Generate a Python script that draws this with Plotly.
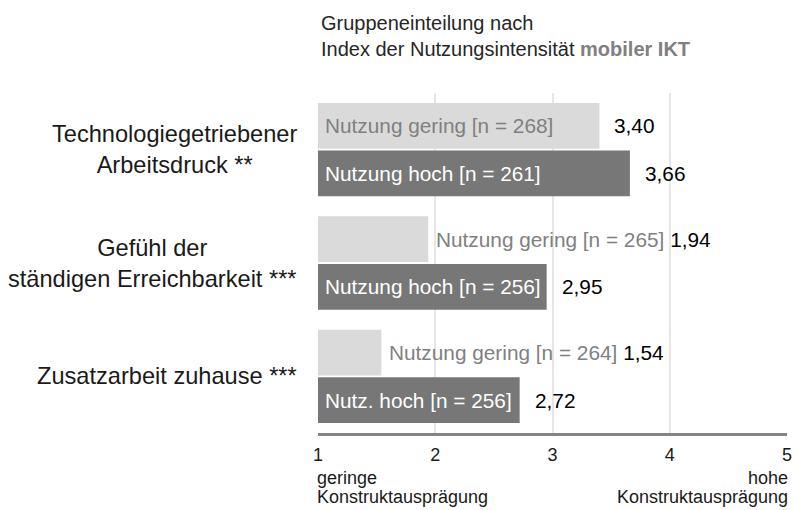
import plotly.graph_objects as go

# ---- data ----
categories = [
    "Technologiegetriebener<br>Arbeitsdruck **",
    "Gefühl der<br>ständigen Erreichbarkeit ***",
    "Zusatzarbeit zuhause ***",
]
gering_values = [3.40, 1.94, 1.54]
hoch_values = [3.66, 2.95, 2.72]
gering_labels = ["Nutzung gering [n = 268]", "Nutzung gering [n = 265]", "Nutzung gering [n = 264]"]
hoch_labels = ["Nutzung hoch [n = 261]", "Nutzung hoch [n = 256]", "Nutz. hoch [n = 256]"]
tick_values = [1, 2, 3, 4, 5]
tick_labels = ["1", "2", "3", "4", "5"]
title_line1 = "Gruppeneinteilung nach"
title_line2 = "Index der Nutzungsintensität"
title_bold = "mobiler IKT"
low_label = ["geringe", "Konstruktausprägung"]
high_label = ["hohe", "Konstruktausprägung"]

# ---- style ----
FONT = "Arial, Liberation Sans, sans-serif"
LIGHT = "#dadada"
DARK = "#777777"
GRAYTXT = "#808080"
TXT = "#1a1a1a"
W, H = 796, 510
ML, MR, MT, MB = 318, 9, 93, 77
XMIN, XMAX = 1, 5
PX_PER_UNIT = (W - ML - MR) / (XMAX - XMIN)
BAR_FS = 20.8
CAT_FS = 23.6


def fmt(v):
    return f"{v:.2f}".replace(".", ",")


def est_width(s, fs):
    return len(s) * 0.45 * fs


fig = go.Figure()
fig.add_trace(go.Bar(y=list(range(len(categories))), x=gering_values, orientation="h",
                     marker=dict(color=LIGHT, line=dict(width=0)), name="gering",
                     hoverinfo="skip"))
fig.add_trace(go.Bar(y=list(range(len(categories))), x=hoch_values, orientation="h",
                     marker=dict(color=DARK, line=dict(width=0)), name="hoch",
                     hoverinfo="skip"))

annotations = []
OFF = 0.21
for i, cat in enumerate(categories):
    annotations.append(dict(x=0, xref="paper", xanchor="right", xshift=-19, y=i, yref="y",
                            yanchor="middle", text=cat, align="center", showarrow=False,
                            font=dict(family=FONT, size=CAT_FS, color=TXT)))
    for v, lab, yoff, inside_color in [
        (gering_values[i], gering_labels[i], -OFF, GRAYTXT),
        (hoch_values[i], hoch_labels[i], OFF, "white"),
    ]:
        fits = (v - XMIN) * PX_PER_UNIT > est_width(lab, BAR_FS) + 8
        if fits:
            annotations.append(dict(x=XMIN, xref="x", xanchor="left", xshift=5, y=i + yoff,
                                    yref="y", yanchor="middle", text=lab, showarrow=False,
                                    font=dict(family=FONT, size=BAR_FS, color=inside_color)))
            annotations.append(dict(x=v, xref="x", xanchor="left", xshift=13, y=i + yoff,
                                    yref="y", yanchor="middle", text=fmt(v), showarrow=False,
                                    font=dict(family=FONT, size=BAR_FS, color="#000000")))
        else:
            annotations.append(dict(x=v, xref="x", xanchor="left", xshift=6, y=i + yoff,
                                    yref="y", yanchor="middle",
                                    text=f"{lab} <span style='color:#000000'>{fmt(v)}</span>",
                                    showarrow=False,
                                    font=dict(family=FONT, size=BAR_FS, color=GRAYTXT)))

# title
annotations.append(dict(x=0, xref="paper", xanchor="left", xshift=1, y=1, yref="paper",
                        yanchor="bottom", yshift=31, showarrow=False, align="left",
                        text=f"{title_line1}<br>{title_line2} <b><span style='color:{GRAYTXT}'>{title_bold}</span></b>",
                        font=dict(family=FONT, size=20, color="#262626")))
# axis end labels
for j, line in enumerate(low_label):
    annotations.append(dict(x=0, xref="paper", xanchor="left", xshift=-3, y=0, yref="paper",
                            yanchor="top", yshift=-33 - 19 * j, text=line, showarrow=False,
                            font=dict(family=FONT, size=18, color=TXT)))
for j, line in enumerate(high_label):
    annotations.append(dict(x=1, xref="paper", xanchor="right", xshift=3, y=0, yref="paper",
                            yanchor="top", yshift=-33 - 19 * j, text=line, showarrow=False,
                            font=dict(family=FONT, size=18, color=TXT)))

fig.update_layout(
    width=W, height=H,
    margin=dict(l=ML, r=MR, t=MT, b=MB, pad=0, autoexpand=False),
    plot_bgcolor="white", paper_bgcolor="white",
    barmode="group", bargap=0.16, bargroupgap=0.04,
    showlegend=False,
    xaxis=dict(range=[XMIN, XMAX], tickvals=tick_values, ticktext=tick_labels,
               showgrid=True, gridcolor="#e6e6e6", gridwidth=1.5, zeroline=False,
               showline=True, linecolor="#858585", linewidth=3, ticks="",
               ticklabelstandoff=3, automargin=False,
               tickfont=dict(family=FONT, size=18, color=TXT)),
    yaxis=dict(range=[len(categories) - 0.5, -0.5], showticklabels=False, showgrid=False,
               zeroline=False, showline=False, ticks="", automargin=False),
    annotations=annotations,
    font=dict(family=FONT),
)

fig.write_html("out.html", config={"displayModeBar": False},
               post_script="document.body.style.margin='0';document.body.style.overflow='hidden';")
